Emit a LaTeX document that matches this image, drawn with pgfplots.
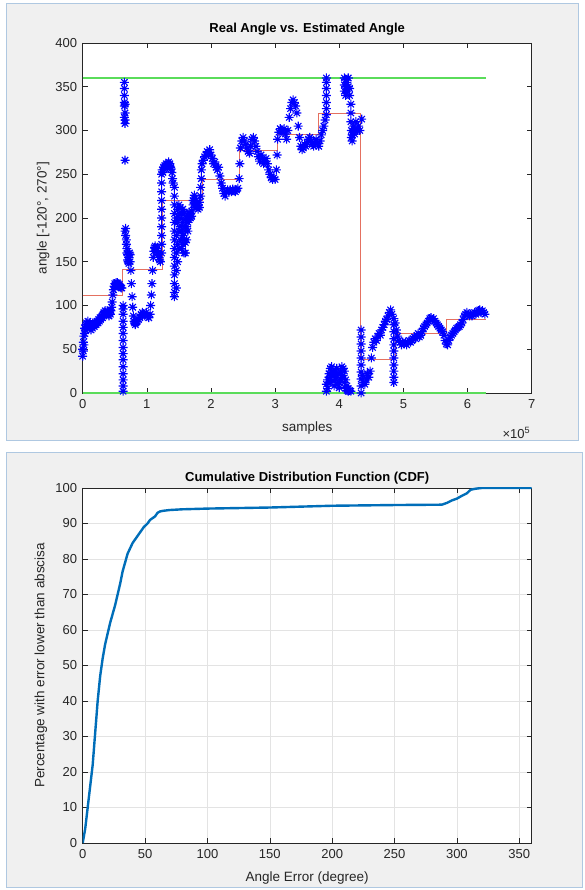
\documentclass[border=0pt]{standalone}
\usepackage{fontspec}
\setmainfont{Liberation Sans}
\usepackage{pgfplots}
\pgfplotsset{compat=1.18}

\definecolor{panelbg}{RGB}{240,240,240}
\definecolor{panelline}{RGB}{175,200,225}
\definecolor{axgray}{RGB}{38,38,38}
\definecolor{mgreen}{RGB}{90,220,90}
\definecolor{mred}{RGB}{228,112,96}
\definecolor{mblue}{RGB}{0,110,185}

% MATLAB style '*' marker: plus and cross
\pgfdeclareplotmark{mstar}{%
  \pgfpathmoveto{\pgfqpoint{-\pgfplotmarksize}{0pt}}\pgfpathlineto{\pgfqpoint{\pgfplotmarksize}{0pt}}%
  \pgfpathmoveto{\pgfqpoint{0pt}{-\pgfplotmarksize}}\pgfpathlineto{\pgfqpoint{0pt}{\pgfplotmarksize}}%
  \pgfpathmoveto{\pgfqpoint{-0.7\pgfplotmarksize}{-0.7\pgfplotmarksize}}\pgfpathlineto{\pgfqpoint{0.7\pgfplotmarksize}{0.7\pgfplotmarksize}}%
  \pgfpathmoveto{\pgfqpoint{-0.7\pgfplotmarksize}{0.7\pgfplotmarksize}}\pgfpathlineto{\pgfqpoint{0.7\pgfplotmarksize}{-0.7\pgfplotmarksize}}%
  \pgfusepathqstroke}

\pgfplotsset{
  matlab/.style={
    scale only axis, anchor=south west,
    axis line style={axgray, line width=0.5pt},
    tick style={axgray, line width=0.5pt},
    tick align=inside, major tick length=5pt,
    tick label style={font=\fontsize{13}{15}\selectfont, text=axgray},
    /pgf/number format/assume math mode=true,
    /pgf/number format/1000 sep={},
    title style={font=\fontsize{13}{15}\selectfont\bfseries, text=black},
    label style={font=\fontsize{13.5}{15}\selectfont, text=axgray},
    xticklabel style={yshift=-3pt},
    yticklabel style={xshift=-2pt},
  }
}

\begin{document}
\begin{tikzpicture}[x=1pt, y=1pt]
\useasboundingbox (0,0) rectangle (584,890);
\fill[white] (0,0) rectangle (584,890);
\filldraw[fill=panelbg, draw=panelline, line width=1pt] (6,449) rectangle (578,886);
\filldraw[fill=panelbg, draw=panelline, line width=1pt] (6,2) rectangle (582,437);

% ---------------- top: real vs estimated angle
\begin{axis}[matlab,
    at={(82.7pt,497pt)}, width=449pt, height=350pt,
    axis background/.style={fill=white},
    xmin=0, xmax=7, ymin=0, ymax=400,
    xtick={0,1,2,3,4,5,6,7},
    ytick={0,50,100,150,200,250,300,350,400},
    title={Real Angle vs. Estimated Angle},
    title style={yshift=-2pt},
    xlabel={samples},
    ylabel={angle [-120°, 270°]},
    xlabel style={at={(axis description cs:0.5,-0.1)}, anchor=center},
    ylabel style={at={(axis description cs:-0.088,0.5)}, anchor=center},
    clip=false,
]
% estimated angle
\addplot[only marks, mark=mstar, mark size=4.5pt, color=blue, mark options={line width=1.1pt}] coordinates {
(0.00,42) (0.00,50) (0.01,48) (0.01,58) (0.02,55) (0.02,65) (0.03,68) (0.03,74) (0.04,72) (0.05,78)
(0.06,80) (0.07,76) (0.08,82) (0.09,78) (0.10,74) (0.11,80) (0.12,76) (0.13,72) (0.14,78) (0.15,74)
(0.16,80) (0.17,78) (0.18,76) (0.19,78) (0.20,80) (0.21,78) (0.22,80) (0.23,82) (0.24,80) (0.25,84)
(0.26,82) (0.27,86) (0.28,84) (0.29,86) (0.30,88) (0.31,86) (0.32,90) (0.33,92) (0.34,90) (0.35,94)
(0.36,92) (0.37,90) (0.38,94) (0.39,92) (0.40,90) (0.41,88) (0.42,92) (0.43,90) (0.44,94) (0.45,98)
(0.46,104) (0.47,112) (0.48,118) (0.49,122) (0.50,125) (0.51,124) (0.52,126) (0.53,124) (0.54,126)
(0.55,125) (0.56,123) (0.57,124) (0.58,122) (0.59,121) (0.60,120) (0.61,120)
(0.63,2) (0.63,8) (0.63,15) (0.63,22) (0.63,30) (0.63,38) (0.63,45) (0.63,52) (0.63,60) (0.63,68)
(0.63,75) (0.63,82) (0.63,90) (0.63,96) (0.63,100)
(0.65,355) (0.65,348) (0.65,340) (0.65,332) (0.66,330) (0.65,328) (0.66,320) (0.65,315) (0.66,312)
(0.66,308) (0.66,266)
(0.66,185) (0.67,188) (0.67,180) (0.68,175) (0.68,170) (0.69,165) (0.69,160) (0.70,158) (0.70,152)
(0.71,150) (0.72,148) (0.72,155) (0.73,160) (0.74,158) (0.74,150) (0.75,140) (0.76,125) (0.77,110)
(0.78,98) (0.79,88) (0.80,82) (0.81,80) (0.82,78) (0.83,80) (0.85,82) (0.87,84) (0.89,86) (0.91,90)
(0.93,92) (0.95,90) (0.97,88) (0.99,92) (1.01,88) (1.03,86) (1.05,90) (1.06,100) (1.07,112) (1.08,125)
(1.09,140) (1.10,155) (1.11,162) (1.12,166) (1.13,168) (1.14,166) (1.15,162) (1.16,165) (1.17,160)
(1.18,158) (1.19,155) (1.20,152) (1.21,150)
(1.23,160) (1.23,170) (1.23,180) (1.23,190) (1.23,200) (1.23,210) (1.23,220) (1.23,230) (1.23,240) (1.23,250)
(1.24,255) (1.25,252) (1.26,258) (1.27,256) (1.28,260) (1.29,258) (1.30,262) (1.31,260) (1.32,258)
(1.33,262) (1.34,264) (1.35,260) (1.36,262) (1.37,258) (1.38,256) (1.39,252) (1.40,245) (1.41,240)
(1.43,235) (1.43,225) (1.43,215) (1.43,205) (1.43,195) (1.43,185) (1.43,175) (1.43,165) (1.43,155)
(1.43,145) (1.43,135) (1.43,125) (1.43,115) (1.43,110)
(1.46,120) (1.46,140) (1.46,160) (1.46,180) (1.46,200) (1.48,150) (1.48,170) (1.48,195) (1.48,210)
(1.50,165) (1.50,185) (1.50,205) (1.50,215) (1.52,175) (1.52,190) (1.52,200) (1.52,212)
(1.54,165) (1.54,185) (1.54,205) (1.56,170) (1.56,180) (1.56,195) (1.56,210)
(1.58,160) (1.58,175) (1.58,190) (1.58,205) (1.60,160) (1.60,172) (1.60,185) (1.60,198)
(1.62,175) (1.62,190) (1.62,200) (1.64,185) (1.64,195) (1.64,205) (1.66,198) (1.66,205)
(1.68,205) (1.68,200) (1.70,208) (1.70,202) (1.72,215) (1.72,220) (1.74,222) (1.74,226)
(1.76,220) (1.76,215) (1.78,212) (1.78,216) (1.80,210) (1.80,214) (1.82,212) (1.82,218)
(1.84,225) (1.84,235) (1.85,245) (1.85,255) (1.86,262)
(1.88,266) (1.90,270) (1.92,272) (1.94,276) (1.96,275) (1.98,278) (2.00,272) (2.02,268) (2.04,262)
(2.06,264) (2.08,258) (2.10,255) (2.12,258) (2.14,248) (2.16,240) (2.18,234) (2.20,228) (2.22,225)
(2.24,230) (2.26,232) (2.28,230) (2.30,232) (2.32,230) (2.34,233) (2.36,231) (2.38,230) (2.40,232)
(2.42,234) (2.44,245) (2.45,262) (2.46,280) (2.48,288) (2.50,292) (2.52,288) (2.54,284) (2.56,280)
(2.58,276) (2.60,274) (2.62,282) (2.64,290) (2.66,292) (2.68,288) (2.70,282) (2.72,276) (2.74,270)
(2.76,265) (2.78,272) (2.80,268) (2.82,262) (2.84,265) (2.86,268) (2.88,262) (2.90,255) (2.92,250)
(2.94,246) (2.96,244) (2.98,246) (3.00,244) (3.02,255) (3.03,272) (3.04,290) (3.06,298) (3.08,302)
(3.10,300) (3.12,298) (3.14,302) (3.16,296) (3.18,290) (3.20,300) (3.22,315) (3.24,325) (3.26,332)
(3.28,335) (3.30,332) (3.32,328) (3.34,320) (3.36,305) (3.38,292) (3.40,282) (3.42,278) (3.44,280)
(3.46,284) (3.48,282) (3.50,286) (3.52,290) (3.54,292) (3.56,288) (3.58,284) (3.60,282) (3.62,286)
(3.64,290) (3.66,285) (3.68,282) (3.70,288) (3.72,295) (3.74,300) (3.76,305) (3.78,312)
(3.80,318) (3.80,325) (3.80,332) (3.80,340) (3.80,348) (3.80,355) (3.80,360)
(3.80,2) (3.80,10) (3.82,15) (3.82,5) (3.84,22) (3.84,12) (3.86,28) (3.86,18) (3.88,30) (3.88,20)
(3.90,25) (3.90,14) (3.92,20) (3.92,8) (3.94,15) (3.94,25) (3.96,28) (3.96,18) (3.98,22) (3.98,10)
(4.00,12) (4.00,6) (4.02,15) (4.02,24) (4.04,30) (4.04,18) (4.06,28) (4.06,20) (4.08,25) (4.08,12)
(4.10,15) (4.10,5) (4.12,8) (4.12,3) (4.14,5) (4.14,2) (4.16,3) (4.18,2)
(4.08,345) (4.08,352) (4.08,360) (4.10,340) (4.10,350) (4.10,358) (4.12,345) (4.12,355) (4.14,350)
(4.14,360) (4.16,348) (4.16,340) (4.18,330) (4.18,320) (4.18,310) (4.19,300) (4.19,292) (4.20,288)
(4.20,295) (4.22,298) (4.22,305) (4.24,300) (4.24,296) (4.26,302) (4.26,310) (4.28,300) (4.30,305)
(4.32,300) (4.35,313)
(4.34,0) (4.34,8) (4.34,16) (4.34,24) (4.34,32) (4.34,40) (4.34,48) (4.34,56) (4.34,64) (4.34,72)
(4.36,20) (4.38,12) (4.40,10) (4.42,15) (4.44,22) (4.46,18) (4.48,25) (4.50,40) (4.52,52) (4.54,58)
(4.56,62) (4.58,60) (4.60,65) (4.62,68) (4.64,66) (4.66,72) (4.68,75) (4.70,78) (4.72,82) (4.74,84)
(4.76,88) (4.78,92) (4.80,95) (4.82,90)
(4.85,85) (4.85,78) (4.85,70) (4.85,62) (4.85,55) (4.85,48) (4.85,40) (4.85,32) (4.85,25) (4.85,18) (4.85,12)
(4.87,80) (4.89,72) (4.91,65) (4.93,60) (4.95,58) (4.97,55) (4.99,58) (5.01,56) (5.03,58) (5.05,55)
(5.07,58) (5.09,60) (5.11,58) (5.13,60) (5.15,62) (5.17,64) (5.19,62) (5.21,66) (5.23,68) (5.25,64)
(5.27,66) (5.29,70) (5.31,74) (5.33,76) (5.35,78) (5.37,80) (5.39,82) (5.41,85) (5.43,86) (5.45,84)
(5.47,85) (5.49,82) (5.51,80) (5.53,78) (5.55,76) (5.57,74) (5.59,72) (5.61,70) (5.63,66) (5.65,60)
(5.67,56) (5.69,55) (5.71,60) (5.73,64) (5.75,66) (5.77,68) (5.79,70) (5.81,72) (5.83,74) (5.85,75)
(5.87,76) (5.89,78) (5.91,80) (5.93,84) (5.95,88) (5.97,90) (5.99,92) (6.01,90) (6.03,88) (6.05,90)
(6.07,88) (6.09,90) (6.11,92) (6.13,90) (6.15,92) (6.17,94) (6.19,95) (6.21,92) (6.23,94) (6.25,92) (6.27,90)
};
% real angle
\addplot[color=mred, line width=0.8pt, mark=none] coordinates {
(0,112) (0.62,112) (0.62,141) (1.24,141) (1.24,220) (1.86,220) (1.86,244) (2.45,244)
(2.45,277) (3.03,277) (3.03,296) (3.67,296) (3.67,320) (4.33,320) (4.33,38) (4.88,38)
(4.88,68) (5.67,68) (5.67,84) (6.28,84)
};
% limits
\addplot[color=mgreen, line width=1.4pt, mark=none] coordinates {(0,360) (6.28,360)};
\addplot[color=mgreen, line width=1.4pt, mark=none] coordinates {(0,0) (6.28,0)};
\node[anchor=east, text=axgray, font=\fontsize{13}{15}\selectfont] at (rel axis cs:1,0) [yshift=-40pt, xshift=2pt] {×10\textsuperscript{5}};
\end{axis}

% ---------------- bottom: CDF
\begin{axis}[matlab,
    at={(82.7pt,47pt)}, width=449pt, height=355pt,
    axis background/.style={fill=white},
    xmin=0, xmax=360, ymin=0, ymax=100,
    xtick={0,50,100,150,200,250,300,350},
    ytick={0,10,20,30,40,50,60,70,80,90,100},
    grid=major, major grid style={gray!22, line width=0.5pt},
    title={Cumulative Distribution Function (CDF)},
    title style={yshift=-6pt},
    xlabel={Angle Error (degree)},
    ylabel={Percentage with error lower than abscisa},
    xlabel style={at={(axis description cs:0.5,-0.099)}, anchor=center},
    ylabel style={at={(axis description cs:-0.093,0.5)}, anchor=center},
]
\addplot[color=mblue, line width=2.4pt, mark=none] coordinates {
(0,0) (2,4) (4,10) (6,16) (8,22) (10,31) (12,40) (14,47) (16,52) (18,56) (20,59) (22,62)
(24,64.5) (26,67) (28,70) (30,73) (32,76.5) (34,79) (36,81.5) (38,83) (40,84.5) (43,86)
(46,87.5) (49,89) (52,90) (54,91) (56,91.5) (58,92) (60,93) (62,93.4) (65,93.6) (70,93.8)
(80,94) (100,94.2) (150,94.5) (180,94.8) (200,95) (250,95.2) (288,95.3) (292,95.8)
(296,96.5) (300,97) (304,97.8) (308,98.5) (311,99.5) (315,99.8) (320,100) (360,100)
};
\end{axis}
\end{tikzpicture}
\end{document}
